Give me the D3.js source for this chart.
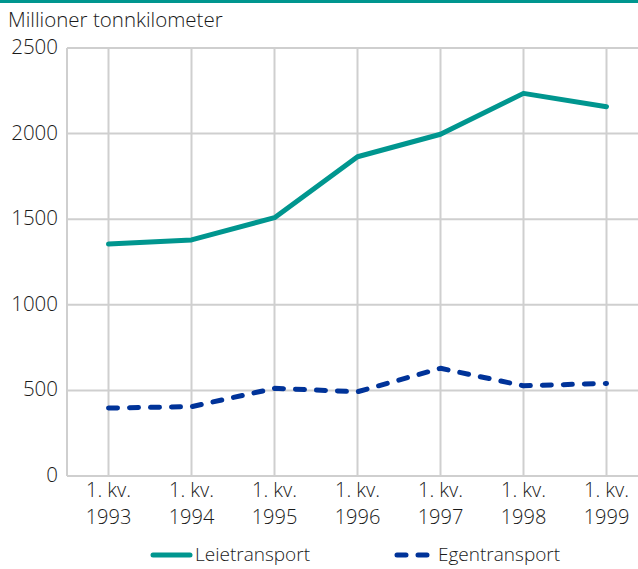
<!DOCTYPE html>
<html><head><meta charset="utf-8">
<script src="https://cdn.jsdelivr.net/npm/d3@7"></script>
<style>body{margin:0;background:#fff}svg{display:block}text{font-family:"Open Sans",sans-serif;font-weight:300;fill:#1a1a1a}</style>
</head><body><svg id="c" width="638" height="569"></svg>
<script>
const years = ["1993","1994","1995","1996","1997","1998","1999"];
const leie = [1355, 1379, 1509, 1865, 1996, 2235, 2157];
const egen = [397, 405, 512, 492, 629, 527, 541];
const yTicks = [0, 500, 1000, 1500, 2000, 2500];
const seriesNames = ["Leietransport", "Egentransport"];
const colors = ["#00968f", "#003399"];

const svg = d3.select("#c");
const W = 638, H = 569;
const x = d3.scaleBand().domain(years).range([67, 648]).paddingInner(0).paddingOuter(0);
const y = d3.scaleLinear().domain([0, 2500]).range([476, 48]);
const cx = d => x(d) + x.bandwidth() / 2;

svg.append("rect").attr("x", 0).attr("y", 0).attr("width", W).attr("height", 3).attr("fill", colors[0]);
svg.append("text").attr("x", 8).attr("y", 27).attr("font-size", 20.5).text("Millioner tonnkilometer");

const g = svg.append("g");
g.selectAll(".hg").data(yTicks).join("line")
  .attr("x1", 67).attr("x2", W).attr("y1", d => y(d)).attr("y2", d => y(d))
  .attr("stroke", "#cfcfcf").attr("stroke-width", 2);
g.selectAll(".vg").data(years).join("line")
  .attr("x1", d => cx(d)).attr("x2", d => cx(d)).attr("y1", y(2500)).attr("y2", y(0))
  .attr("stroke", "#cfcfcf").attr("stroke-width", 2);
g.append("line").attr("x1", 67).attr("x2", 67).attr("y1", y(2500)).attr("y2", y(0))
  .attr("stroke", "#cfcfcf").attr("stroke-width", 2);

const yAxis = d3.axisLeft(y).tickValues(yTicks).tickSize(0).tickPadding(0).tickFormat(d3.format("d"));
const ya = svg.append("g").attr("transform", "translate(58,-1)").call(yAxis);
ya.select(".domain").remove();
ya.selectAll("text").attr("font-size", 20.5).attr("fill", "#1a1a1a").attr("font-family", "'Open Sans',sans-serif");

const xl = svg.append("g");
years.forEach(yr => {
  const t = xl.append("text").attr("text-anchor", "middle").attr("font-size", 20);
  t.append("tspan").attr("x", cx(yr)).attr("y", 497).text("1. kv.");
  t.append("tspan").attr("x", cx(yr)).attr("y", 524).text(yr);
});

const line = d3.line().x((d, i) => cx(years[i])).y(d => y(d));
svg.append("path").datum(leie).attr("d", line).attr("fill", "none")
  .attr("stroke", colors[0]).attr("stroke-width", 5).attr("stroke-linecap", "round").attr("stroke-linejoin", "round");
svg.append("path").datum(egen).attr("d", line).attr("fill", "none")
  .attr("stroke", colors[1]).attr("stroke-width", 5).attr("stroke-linecap", "round").attr("stroke-linejoin", "round")
  .attr("stroke-dasharray", "9,12");

const leg = [{x1: 153, x2: 190, tx: 195}, {x1: 397, x2: 432, tx: 438}];
leg.forEach((l, i) => {
  svg.append("line").attr("x1", l.x1).attr("x2", l.x2).attr("y1", 555).attr("y2", 555)
    .attr("stroke", colors[i]).attr("stroke-width", 5).attr("stroke-linecap", "round")
    .attr("stroke-dasharray", i === 1 ? "9,12" : null);
  svg.append("text").attr("x", l.tx).attr("y", 561).attr("font-size", 19).text(seriesNames[i]);
});
</script></body></html>
